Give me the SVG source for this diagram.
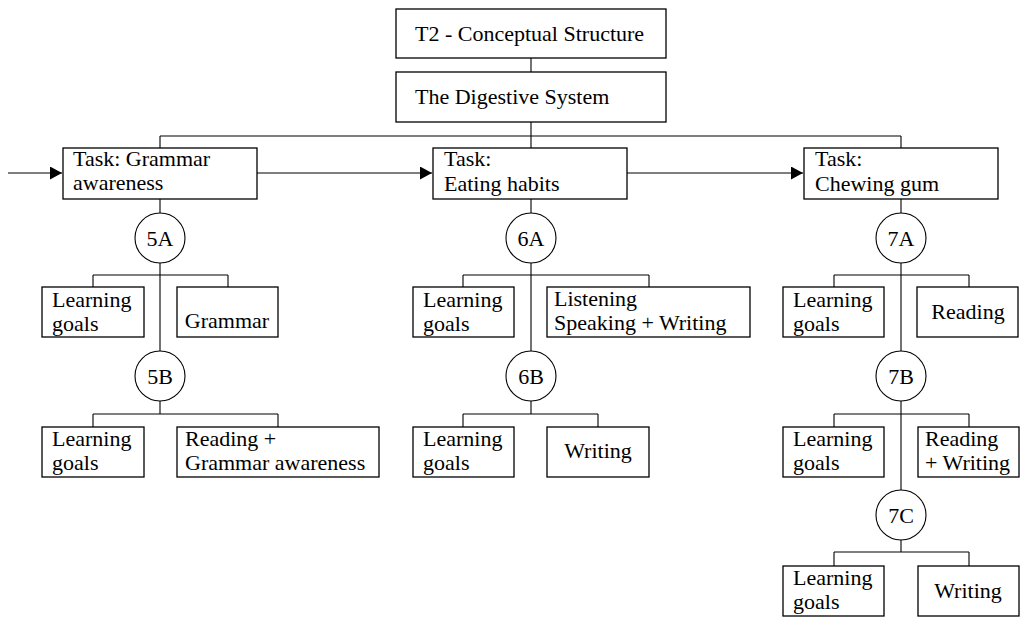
<svg xmlns="http://www.w3.org/2000/svg" width="1021" height="619" viewBox="0 0 1021 619">
<style>
.box{fill:#fff;stroke:#000;stroke-width:1.3}
.circ{fill:#fff;stroke:#000;stroke-width:1.1}
.ln{fill:none;stroke:#000;stroke-width:1.1}
text{font-family:"Liberation Serif","Times New Roman",serif;font-size:22px;fill:#000}
.c{text-anchor:middle}
</style>
<defs>
<marker id="arr" markerWidth="13" markerHeight="13" refX="12" refY="6.5" orient="auto" markerUnits="userSpaceOnUse">
<path d="M0,0 L12,6.5 L0,13 Z" fill="#000"/>
</marker>
</defs>
<g id="connectors">
<path class="ln" d="M531,58 V72"/>
<path class="ln" d="M531,122 V136 M160,136 H901 M160,136 V148 M531,136 V148 M901,136 V148"/>
<path class="ln" d="M8,173 H62" marker-end="url(#arr)"/>
<path class="ln" d="M257,173 H432" marker-end="url(#arr)"/>
<path class="ln" d="M627,173 H803" marker-end="url(#arr)"/>
<path class="ln" d="M160,199 V414 M93,275 H228 M93,275 V287 M228,275 V287 M93,414 H278 M93,414 V427 M278,414 V427"/>
<path class="ln" d="M531,199 V414 M463,275 H649 M463,275 V287 M649,275 V287 M463,414 H598 M463,414 V427 M598,414 V427"/>
<path class="ln" d="M901,199 V552 M834,275 H969 M834,275 V287 M969,275 V287 M834,414 H969 M834,414 V427 M969,414 V427 M834,552 H969 M834,552 V566 M969,552 V566"/>
</g>
<g id="t2"><rect class="box" x="396" y="9" width="270" height="49"/><text x="415" y="41">T2 - Conceptual Structure</text></g>
<g id="digestive"><rect class="box" x="396" y="72" width="270" height="50"/><text x="415" y="104">The Digestive System</text></g>
<g id="task-grammar"><rect class="box" x="63" y="148" width="194" height="51"/><text x="73" y="166">Task: Grammar</text><text x="73" y="190">awareness</text></g>
<g id="task-eating"><rect class="box" x="433" y="148" width="194" height="51"/><text x="444" y="166">Task:</text><text x="444" y="191">Eating habits</text></g>
<g id="task-chewing"><rect class="box" x="804" y="148" width="194" height="51"/><text x="815" y="166">Task:</text><text x="815" y="191">Chewing gum</text></g>
<g id="c5A"><circle class="circ" cx="160" cy="238" r="25"/><text class="c" x="160" y="246">5A</text></g>
<g id="c5B"><circle class="circ" cx="160" cy="376" r="25"/><text class="c" x="160" y="384">5B</text></g>
<g id="c6A"><circle class="circ" cx="531" cy="238" r="25"/><text class="c" x="531" y="246">6A</text></g>
<g id="c6B"><circle class="circ" cx="531" cy="376" r="25"/><text class="c" x="531" y="384">6B</text></g>
<g id="c7A"><circle class="circ" cx="901" cy="238" r="25"/><text class="c" x="901" y="246">7A</text></g>
<g id="c7B"><circle class="circ" cx="901" cy="376" r="25"/><text class="c" x="901" y="384">7B</text></g>
<g id="c7C"><circle class="circ" cx="901" cy="515" r="25"/><text class="c" x="901" y="523">7C</text></g>
<g id="lg5A"><rect class="box" x="42" y="287" width="102" height="50"/><text x="52" y="307">Learning</text><text x="52" y="331">goals</text></g>
<g id="grammar5A"><rect class="box" x="177" y="287" width="101" height="50"/><text class="c" x="227" y="328">Grammar</text></g>
<g id="lg5B"><rect class="box" x="42" y="427" width="102" height="50"/><text x="52" y="446">Learning</text><text x="52" y="470">goals</text></g>
<g id="rg5B"><rect class="box" x="177" y="427" width="202" height="50"/><text x="185" y="446">Reading +</text><text x="185" y="470">Grammar awareness</text></g>
<g id="lg6A"><rect class="box" x="413" y="287" width="101" height="50"/><text x="423" y="307">Learning</text><text x="423" y="331">goals</text></g>
<g id="lsw6A"><rect class="box" x="547" y="287" width="203" height="50"/><text x="554" y="306">Listening</text><text x="554" y="330">Speaking + Writing</text></g>
<g id="lg6B"><rect class="box" x="413" y="427" width="101" height="50"/><text x="423" y="446">Learning</text><text x="423" y="470">goals</text></g>
<g id="w6B"><rect class="box" x="547" y="427" width="102" height="50"/><text class="c" x="598" y="458">Writing</text></g>
<g id="lg7A"><rect class="box" x="783" y="287" width="101" height="50"/><text x="793" y="307">Learning</text><text x="793" y="331">goals</text></g>
<g id="r7A"><rect class="box" x="917" y="287" width="101" height="50"/><text class="c" x="968" y="319">Reading</text></g>
<g id="lg7B"><rect class="box" x="783" y="427" width="101" height="50"/><text x="793" y="446">Learning</text><text x="793" y="470">goals</text></g>
<g id="rw7B"><rect class="box" x="918" y="427" width="101" height="50"/><text x="925" y="446">Reading</text><text x="925" y="470">+ Writing</text></g>
<g id="lg7C"><rect class="box" x="783" y="566" width="101" height="50"/><text x="793" y="585">Learning</text><text x="793" y="609">goals</text></g>
<g id="w7C"><rect class="box" x="918" y="566" width="101" height="50"/><text class="c" x="968" y="598">Writing</text></g>
</svg>
